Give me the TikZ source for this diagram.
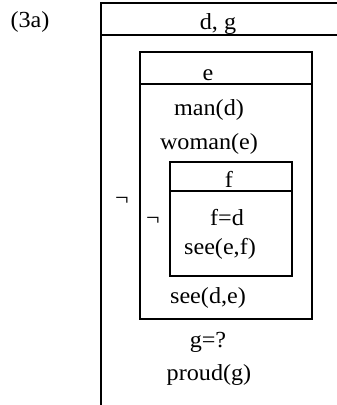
\documentclass[tikz,border=0pt]{standalone}
\usepackage{fontspec}
\setmainfont[FakeStretch=1.05]{Liberation Serif}
\begin{document}
\begin{tikzpicture}[x=1pt,y=-1pt,
  txt/.style={inner sep=0pt,anchor=base,font=\fontsize{23}{27}\selectfont},
  boxline/.style={line width=2.8pt}]
\useasboundingbox (0,0) rectangle (337,405);
% outer DRS box (cut by the page on the right and bottom)
\draw[boxline] (101,3) rectangle (360,430);
\draw[boxline] (101,35) -- (360,35);
% box e
\draw[boxline] (140,52) rectangle (312,319);
\draw[boxline] (140,84) -- (312,84);
% box f
\draw[boxline] (170,162) rectangle (292,276);
\draw[boxline] (170,191) -- (292,191);
% texts
\node[txt] (lbl) at (30,27) {(3a)};
\node[txt] (dg) at (218,29) {d, g};
\node[txt] (e) at (208,80) {e};
\node[txt] (mand) at (209,115) {man(d)};
\node[txt] (womane) at (209,149) {woman(e)};
\node[txt] (f) at (229,187) {f};
\node[txt] (fd) at (227,225) {f=d};
\node[txt] (seeef) at (220,254) {see(e,f)};
\node[txt] (seede) at (208,303) {see(d,e)};
\node[txt] (gq) at (208,347) {g=?};
\node[txt] (proudg) at (209,380) {proud(g)};
\node[txt] (negA) at (122,205) {¬};
\node[txt] (negB) at (153,225) {¬};
\end{tikzpicture}
\end{document}
